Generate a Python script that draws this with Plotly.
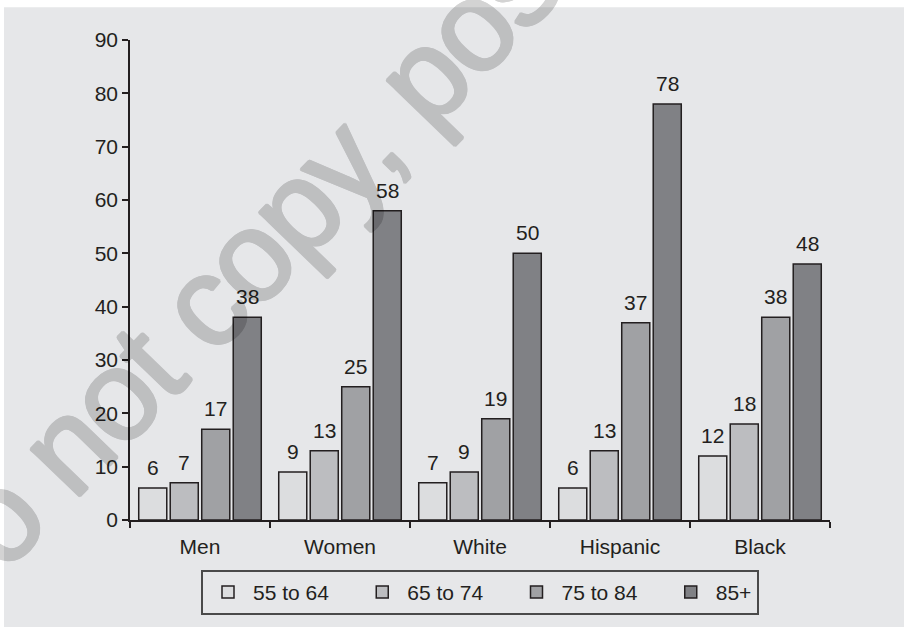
import plotly.graph_objects as go

# Groups along the x axis
categories = ["Men", "Women", "White", "Hispanic", "Black"]

# Age-group series (percent)
age_groups = ["55 to 64", "65 to 74", "75 to 84", "85+"]
values_55_64 = [6, 9, 7, 6, 12]
values_65_74 = [7, 13, 9, 13, 18]
values_75_84 = [17, 25, 19, 37, 38]
values_85_up = [38, 58, 50, 78, 48]

y_ticks = [0, 10, 20, 30, 40, 50, 60, 70, 80, 90]

series = [values_55_64, values_65_74, values_75_84, values_85_up]
fills = ["#dcdddf", "#bcbdc0", "#a0a1a4", "#808185"]

INK = "#231f20"
BG = "#e6e7e9"
FONT = "Liberation Sans, Arial, sans-serif"
FS = 21
BARGAP = 0.1
BARGROUPGAP = 0.11

W, H = 904, 627
ML, MR, MT, MB = 130, 74, 40, 105
PW, PH = W - ML - MR, H - MT - MB


def px_x(px):
    return (px - ML) / PW


def px_y(py):
    return (H - MB - py) / PH


# Legend entries get trailing no-break spaces so they sit further apart
NBSP = "\u00a0"
legend_names = [g + NBSP * 4 for g in age_groups[:-1]] + [age_groups[-1]]

fig = go.Figure()
for name, vals, col in zip(legend_names, series, fills):
    fig.add_trace(go.Bar(
        name=name, x=categories, y=vals,
        marker=dict(color=col, line=dict(color=INK, width=1.5)),
    ))

# Value labels above each bar
n = len(series)
slot = (1 - BARGAP) / n
annotations = []
for i, vals in enumerate(series):
    for j, v in enumerate(vals):
        annotations.append(dict(
            x=j + (i - (n - 1) / 2) * slot, y=v, xref="x", yref="y",
            text=str(v), showarrow=False, yanchor="bottom", yshift=7,
            font=dict(family=FONT, size=FS, color=INK),
        ))

# Diagonal watermark: tight tracking, strokes thickened with a hard shadow
thick = ", ".join(f"{dx}px {dy}px 0 #000" for dx, dy in
                  [(1.5, 0), (-1.5, 0), (0, 1.5), (0, -1.5), (1, 1), (-1, -1),
                   (1, -1), (-1, 1)])
annotations.append(dict(
    x=px_x(473), y=px_y(24), xref="paper", yref="paper",
    text='<span style="letter-spacing:-3.25px">Do not copy, post, or distribute</span>',
    showarrow=False, textangle=-46, xanchor="center", yanchor="middle",
    opacity=0.17,
    font=dict(family=FONT, size=128, color="#000", shadow=thick),
))

fig.update_layout(
    width=W, height=H,
    margin=dict(l=ML, r=MR, t=MT, b=MB),
    paper_bgcolor="white",
    plot_bgcolor="rgba(0,0,0,0)",
    barmode="group", bargap=BARGAP, bargroupgap=BARGROUPGAP,
    font=dict(family=FONT, size=FS, color=INK),
    showlegend=True,
    legend=dict(
        orientation="h", x=0.5, xanchor="center",
        y=px_y(572), yanchor="top",
        bordercolor="#4a4a4a", borderwidth=2, bgcolor="rgba(0,0,0,0)",
        font=dict(family=FONT, size=FS, color=INK),
        traceorder="normal", itemwidth=40,
    ),
    shapes=[dict(
        type="rect", xref="paper", yref="paper", layer="below",
        x0=px_x(4), x1=px_x(W + 10), y0=px_y(H + 10), y1=px_y(7),
        fillcolor=BG, line=dict(width=0),
    )],
    annotations=annotations,
    xaxis=dict(
        type="category", showline=True, linecolor=INK, linewidth=1.5,
        ticks="outside", tickson="boundaries", ticklen=6, tickwidth=1.5,
        tickcolor=INK, showgrid=False, zeroline=False, ticklabelstandoff=7,
        tickfont=dict(family=FONT, size=FS, color=INK),
    ),
    yaxis=dict(
        range=[0, 90], tickvals=y_ticks, showline=True, linecolor=INK,
        linewidth=1.5, ticks="outside", ticklen=6, tickwidth=1.5,
        tickcolor=INK, showgrid=False, zeroline=False,
        tickfont=dict(family=FONT, size=FS, color=INK),
    ),
)

fig.write_html("out.html")
